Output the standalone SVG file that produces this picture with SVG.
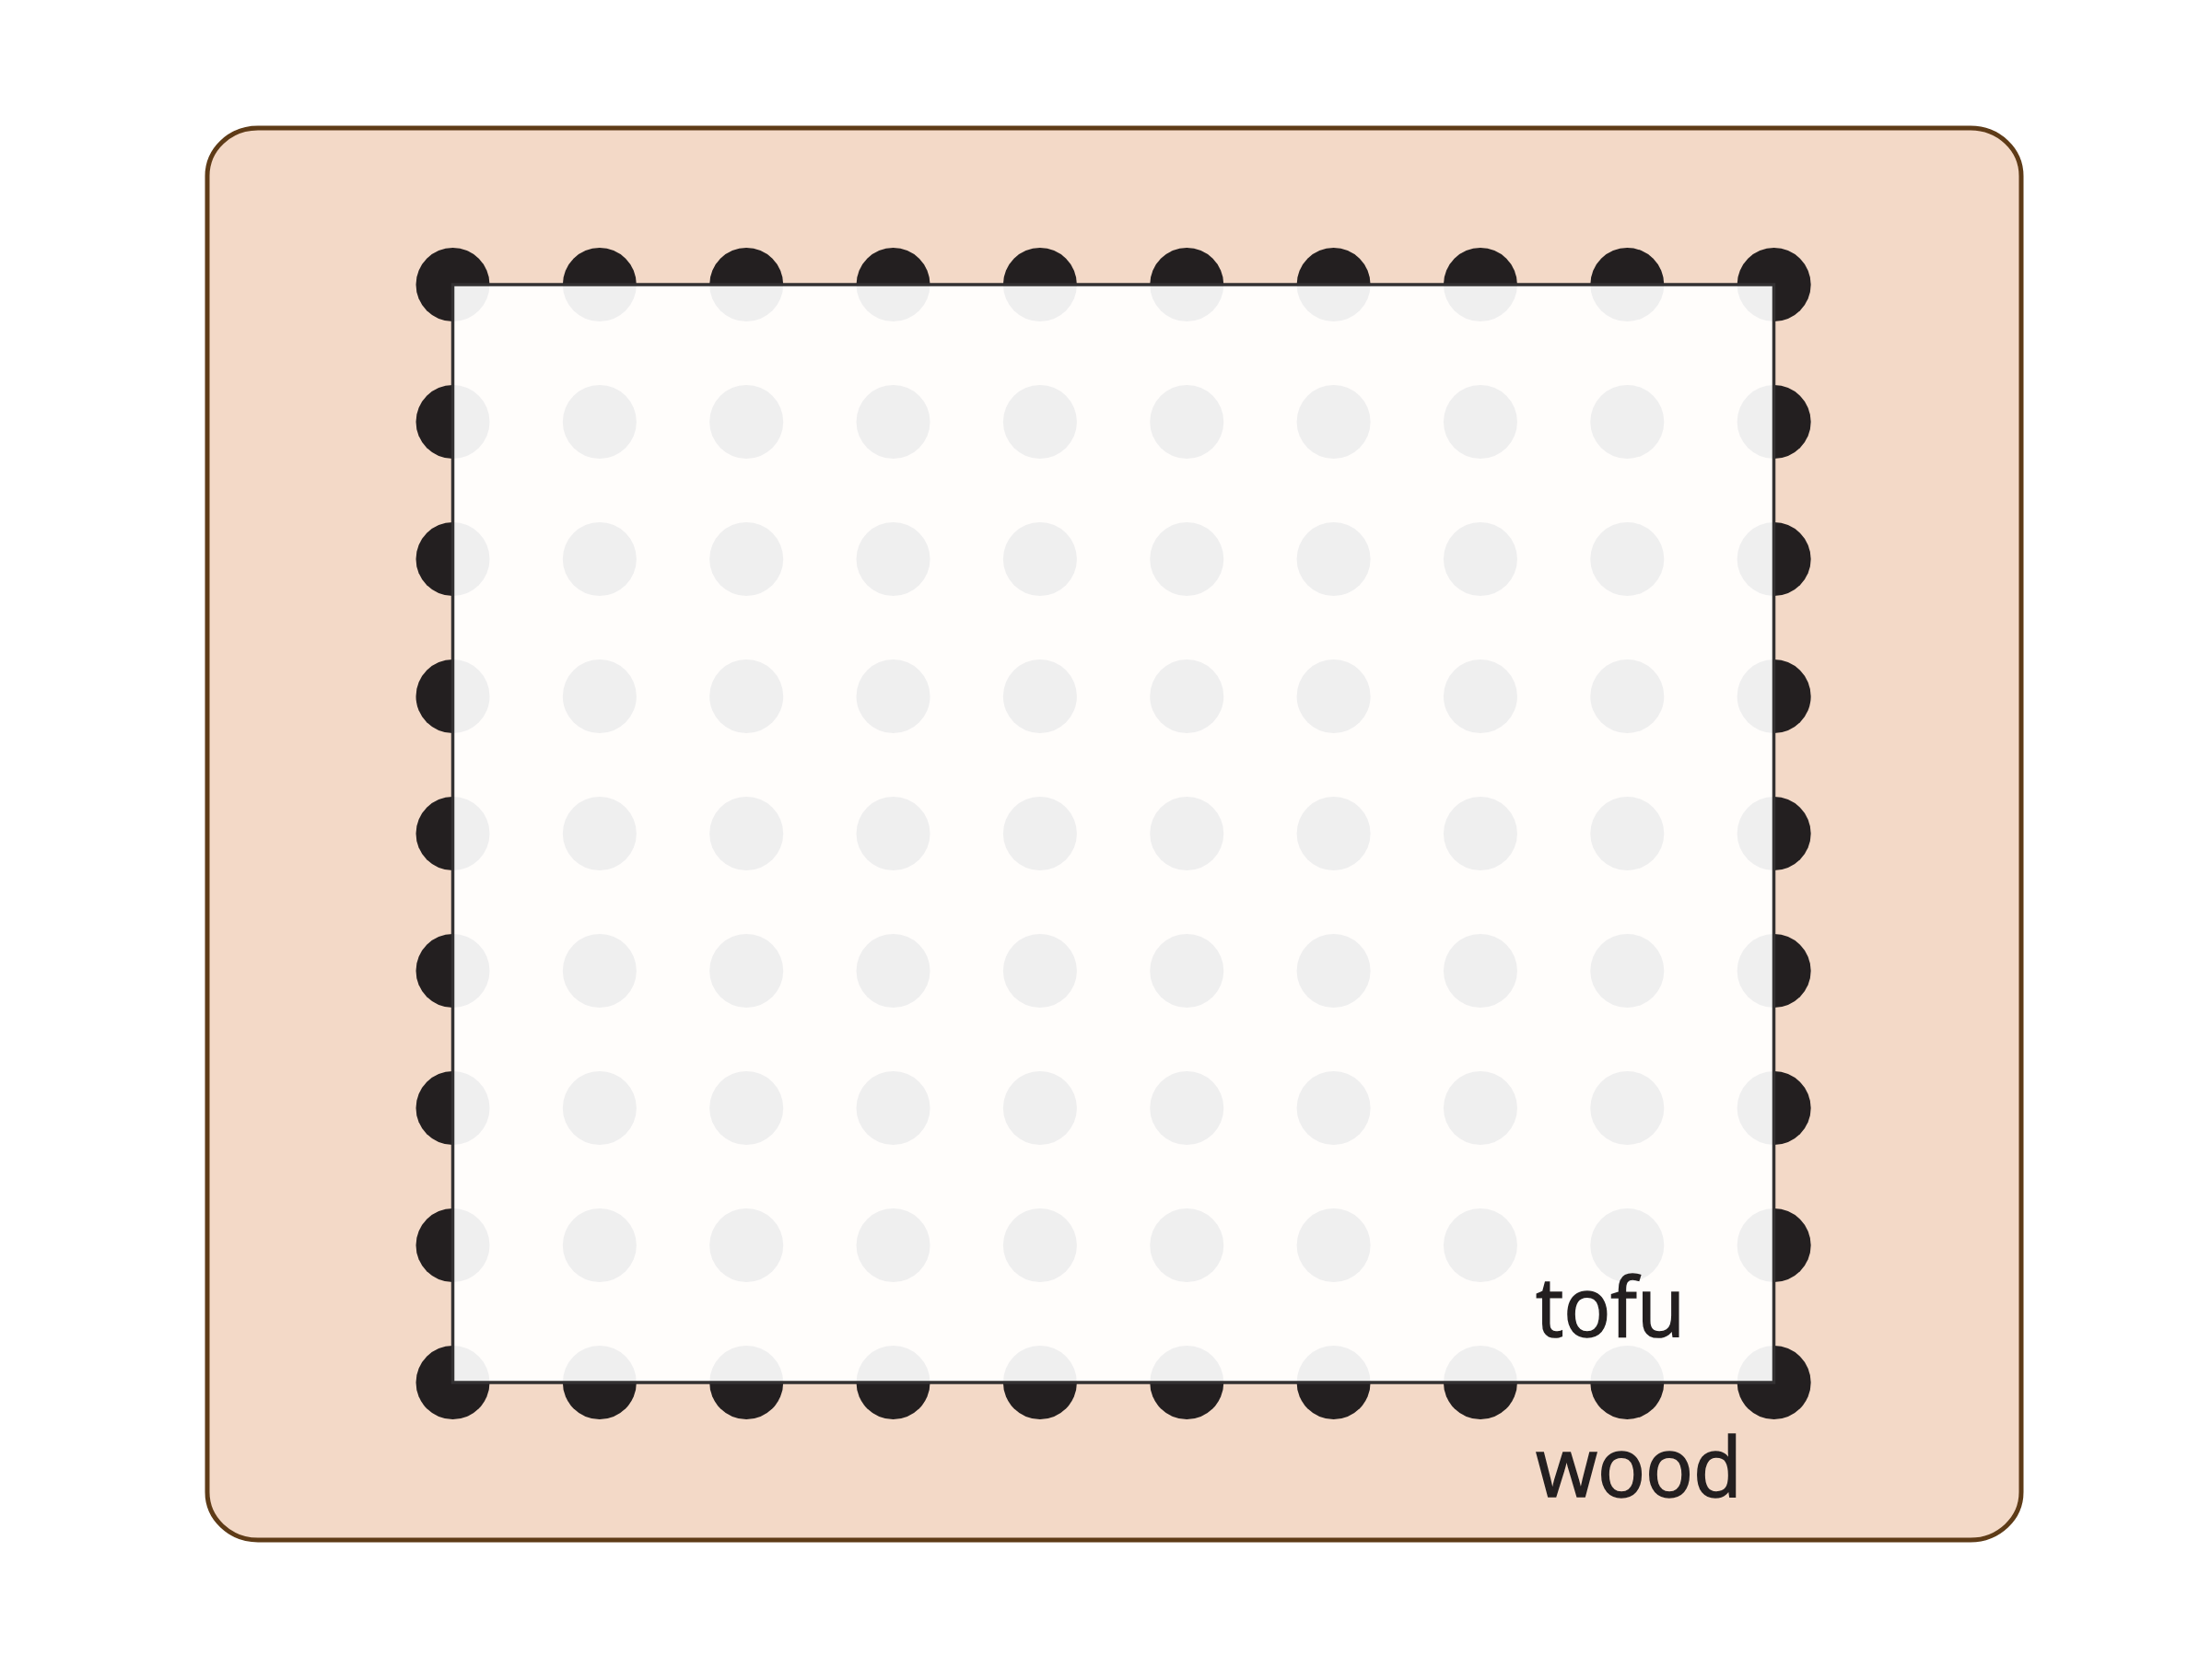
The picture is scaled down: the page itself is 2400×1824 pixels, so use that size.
<svg xmlns="http://www.w3.org/2000/svg" xmlns:xlink="http://www.w3.org/1999/xlink" width="2400" height="1824" viewBox="0 0 2400 1824">
  <style>
    .wood { fill: #f3d9c7; stroke: #5e3b17; stroke-width: 5; }
    .tofu { fill: #ffffff; fill-opacity: 0.93; stroke: #333132; stroke-width: 3.5; }
    .dot { fill: #231f20; }
    .label { font-family: "Open Sans", "Noto Sans", "Liberation Sans", sans-serif; font-size: 90px; fill: #231f20; stroke: #231f20; stroke-width: 1.6; }
  </style>
  <defs>
    <g id="row">
      <circle class="dot" cx="491.5" cy="0" r="40"/>
      <circle class="dot" cx="650.85" cy="0" r="40"/>
      <circle class="dot" cx="810.2" cy="0" r="40"/>
      <circle class="dot" cx="969.55" cy="0" r="40"/>
      <circle class="dot" cx="1128.9" cy="0" r="40"/>
      <circle class="dot" cx="1288.25" cy="0" r="40"/>
      <circle class="dot" cx="1447.6" cy="0" r="40"/>
      <circle class="dot" cx="1606.95" cy="0" r="40"/>
      <circle class="dot" cx="1766.3" cy="0" r="40"/>
      <circle class="dot" cx="1925.65" cy="0" r="40"/>
    </g>
  </defs>
  <rect width="2400" height="1824" fill="#ffffff"/>
  <g id="wood">
    <rect class="wood" x="225" y="139" width="1969" height="1533" rx="55" ry="52"/>
    <text class="label" x="1667" y="1625" textLength="224" lengthAdjust="spacingAndGlyphs">wood</text>
  </g>
  <g id="pegs">
    <use xlink:href="#row" href="#row" y="309"/>
    <use xlink:href="#row" href="#row" y="458"/>
    <use xlink:href="#row" href="#row" y="607"/>
    <use xlink:href="#row" href="#row" y="756"/>
    <use xlink:href="#row" href="#row" y="905"/>
    <use xlink:href="#row" href="#row" y="1054"/>
    <use xlink:href="#row" href="#row" y="1203"/>
    <use xlink:href="#row" href="#row" y="1352"/>
    <use xlink:href="#row" href="#row" y="1501"/>
  </g>
  <g id="tofu">
    <rect class="tofu" x="491.5" y="309" width="1434" height="1192"/>
    <text class="label" x="1667" y="1451" textLength="162" lengthAdjust="spacingAndGlyphs">tofu</text>
  </g>
  <g id="connectors"/>
</svg>
